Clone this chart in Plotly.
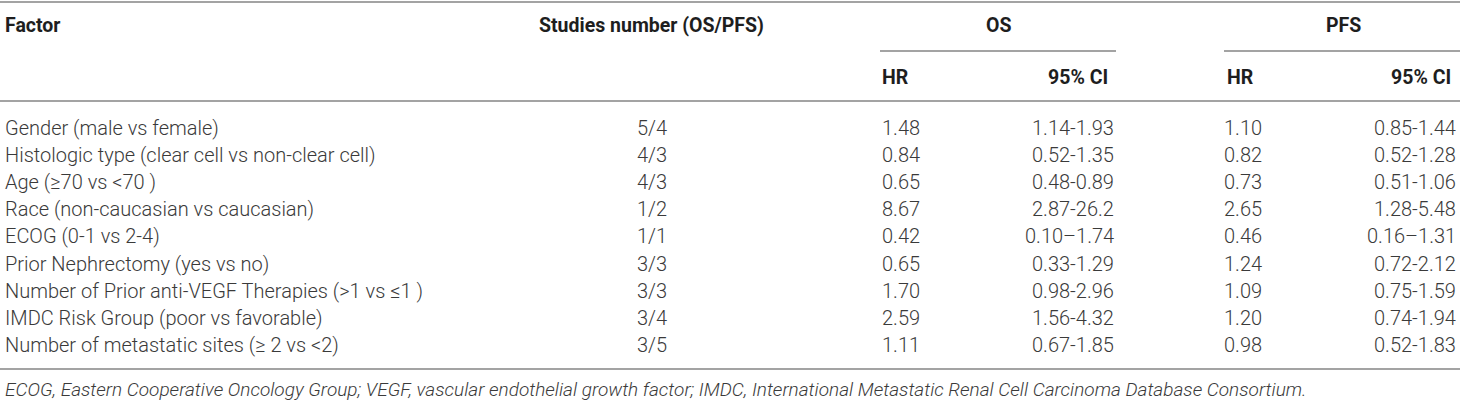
import plotly.graph_objects as go

# table content
factors = [
    "Gender (male vs female)",
    "Histologic type (clear cell vs non-clear cell)",
    "Age (≥70 vs <70 )",
    "Race (non-caucasian vs caucasian)",
    "ECOG (0-1 vs 2-4)",
    "Prior Nephrectomy (yes vs no)",
    "Number of Prior anti-VEGF Therapies (>1 vs ≤1 )",
    "IMDC Risk Group (poor vs favorable)",
    "Number of metastatic sites (≥ 2 vs <2)",
]
studies = ["5/4", "4/3", "4/3", "1/2", "1/1", "3/3", "3/3", "3/4", "3/5"]
os_hr = ["1.48", "0.84", "0.65", "8.67", "0.42", "0.65", "1.70", "2.59", "1.11"]
os_ci = ["1.14-1.93", "0.52-1.35", "0.48-0.89", "2.87-26.2", "0.10–1.74",
         "0.33-1.29", "0.98-2.96", "1.56-4.32", "0.67-1.85"]
pfs_hr = ["1.10", "0.82", "0.73", "2.65", "0.46", "1.24", "1.09", "1.20", "0.98"]
pfs_ci = ["0.85-1.44", "0.52-1.28", "0.51-1.06", "1.28-5.48", "0.16–1.31",
          "0.72-2.12", "0.75-1.59", "0.74-1.94", "0.52-1.83"]
footnote = ("ECOG, Eastern Cooperative Oncology Group; VEGF, vascular endothelial growth factor; "
            "IMDC, International Metastatic Renal Cell Carcinoma Database Consortium.")

W, H = 1460, 400
ROW0, ROW_STEP = 128, 27.1
HEAD_Y, SUB_Y = 25, 77
LINE_COL = "#a3a3a3"

BODY = dict(family="Roboto, 'Liberation Sans', sans-serif", size=20, color="#3a3a3a", weight=300)
HEAD = dict(family="Roboto, 'Liberation Sans', sans-serif", size=19.5, color="#1e1e1e", weight="bold")
FOOT = dict(family="Roboto, 'Liberation Sans', sans-serif", size=19, color="#3a3a3a",
            weight=300, style="italic")

# (values, x anchor, alignment)
columns = [
    (factors, 5, "left"),
    (studies, 652, "center"),
    (os_hr, 882, "left"),
    (os_ci, 1114, "right"),
    (pfs_hr, 1224, "left"),
    (pfs_ci, 1456, "right"),
]

fig = go.Figure()
annotations = []


def cell(text, x, y, anchor, font):
    return dict(text=text, x=x, y=y, xref="x", yref="y", xanchor=anchor,
                yanchor="middle", showarrow=False, font=font,
                borderpad=0, borderwidth=0)


for vals, x, anchor in columns:
    for i, v in enumerate(vals):
        annotations.append(cell(v, x, ROW0 + i * ROW_STEP, anchor, BODY))

# headers
annotations += [
    cell("Factor", 5, HEAD_Y, "left", HEAD),
    cell("Studies number (OS/PFS)", 651, HEAD_Y, "center", HEAD),
    cell("OS", 998, HEAD_Y, "center", HEAD),
    cell("PFS", 1343, HEAD_Y, "center", HEAD),
    cell("HR", 882, SUB_Y, "left", HEAD),
    cell("95% CI", 1108, SUB_Y, "right", HEAD),
    cell("HR", 1227, SUB_Y, "left", HEAD),
    cell("95% CI", 1451, SUB_Y, "right", HEAD),
    cell(footnote, 5, 389, "left", FOOT),
]

rules = [(0, W, 2), (880, 1116, 51), (1224, W, 51), (0, W, 101), (0, W, 369)]
shapes = [dict(type="line", xref="x", yref="y", x0=a, x1=b, y0=y, y1=y,
               line=dict(color=LINE_COL, width=2)) for a, b, y in rules]

# invisible trace so the axes exist
fig.add_trace(go.Scatter(x=[0, W], y=[0, H], mode="markers", marker=dict(opacity=0),
                         hoverinfo="skip", showlegend=False))

fig.update_layout(
    width=W, height=H, margin=dict(l=0, r=0, t=0, b=0),
    plot_bgcolor="white", paper_bgcolor="white",
    annotations=annotations, shapes=shapes,
)
fig.update_xaxes(range=[0, W], visible=False)
fig.update_yaxes(range=[H, 0], visible=False)

fig.write_html(
    "out.html",
    config={"displayModeBar": False},
    post_script="document.body.style.margin='0';document.body.style.overflow='hidden';",
)
